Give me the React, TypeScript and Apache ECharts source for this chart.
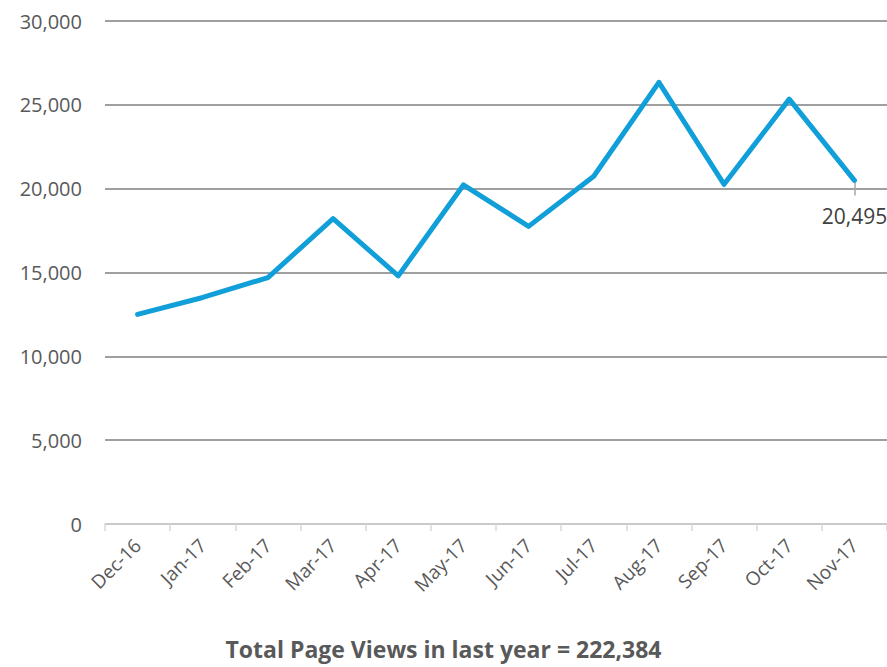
import React, { useEffect, useRef } from "react";
import * as echarts from "echarts";

const categories = ["Dec-16", "Jan-17", "Feb-17", "Mar-17", "Apr-17", "May-17", "Jun-17", "Jul-17", "Aug-17", "Sep-17", "Oct-17", "Nov-17"];
const pageViews = [12500, 13510, 14700, 18210, 14800, 20220, 17750, 20740, 26340, 20260, 25340, 20495];
const yTicks = [0, 5000, 10000, 15000, 20000, 25000, 30000];
const footerText = "Total Page Views in last year = 222,384";

const FONT = "'Open Sans', sans-serif";

export default function App() {
  const ref = useRef<HTMLDivElement>(null);
  useEffect(() => {
    if (!ref.current) return;
    const chart = echarts.init(ref.current, null, { renderer: "svg" });
    const last = pageViews.length - 1;
    chart.setOption({
      animation: false,
      backgroundColor: "#ffffff",
      grid: { left: 105, right: 0, top: 21, bottom: 143, containLabel: false },
      title: {
        text: footerText,
        left: "center",
        top: 632,
        textStyle: { fontFamily: FONT, fontSize: 23, fontWeight: "bold", color: "#595959" },
      },
      xAxis: {
        type: "category",
        data: categories,
        boundaryGap: true,
        axisLine: { show: true, lineStyle: { color: "#d9d9d9", width: 1.5 } },
        axisTick: { show: true, length: 7, lineStyle: { color: "#d9d9d9", width: 1.5 } },
        axisLabel: { rotate: 45, margin: 18, fontFamily: FONT, fontSize: 19, color: "#595959" },
        splitLine: { show: false },
      },
      yAxis: {
        type: "value",
        min: yTicks[0],
        max: yTicks[yTicks.length - 1],
        interval: 5000,
        axisLine: { show: false },
        axisTick: { show: false },
        axisLabel: {
          margin: 23,
          fontFamily: FONT,
          fontSize: 20,
          color: "#595959",
          formatter: (v: number) => v.toLocaleString("en-US"),
        },
        splitLine: { show: true, lineStyle: { color: "#7f7f7f", width: 1.5 } },
      },
      series: [
        {
          type: "line",
          data: pageViews.map((v, i) =>
            i === last
              ? {
                  value: v,
                  label: {
                    show: true,
                    position: "bottom",
                    distance: 25,
                    fontFamily: FONT,
                    fontSize: 21,
                    color: "#404040",
                    formatter: (p: any) => Number(p.value).toLocaleString("en-US"),
                  },
                }
              : v
          ),
          symbol: "circle",
          symbolSize: 1,
          showSymbol: true,
          itemStyle: { color: "#109fd9" },
          lineStyle: { color: "#109fd9", width: 5, join: "round", cap: "round" },
          label: { show: false },
          z: 5,
        },
        {
          type: "line",
          data: pageViews.map((v, i) => (i === last ? v : null)),
          symbol: "none",
          lineStyle: { width: 0 },
          markLine: {
            silent: true,
            symbol: "none",
            label: { show: false },
            lineStyle: { color: "#a6a6a6", width: 1.5, type: "solid" },
            data: [
              [
                { coord: [last, pageViews[last]] },
                { coord: [last, pageViews[last] - 900] },
              ],
            ],
          },
        },
      ],
    });
    return () => chart.dispose();
  }, []);
  return <div ref={ref} style={{ width: 887, height: 667, position: "absolute", left: 0, top: 0 }} />;
}
